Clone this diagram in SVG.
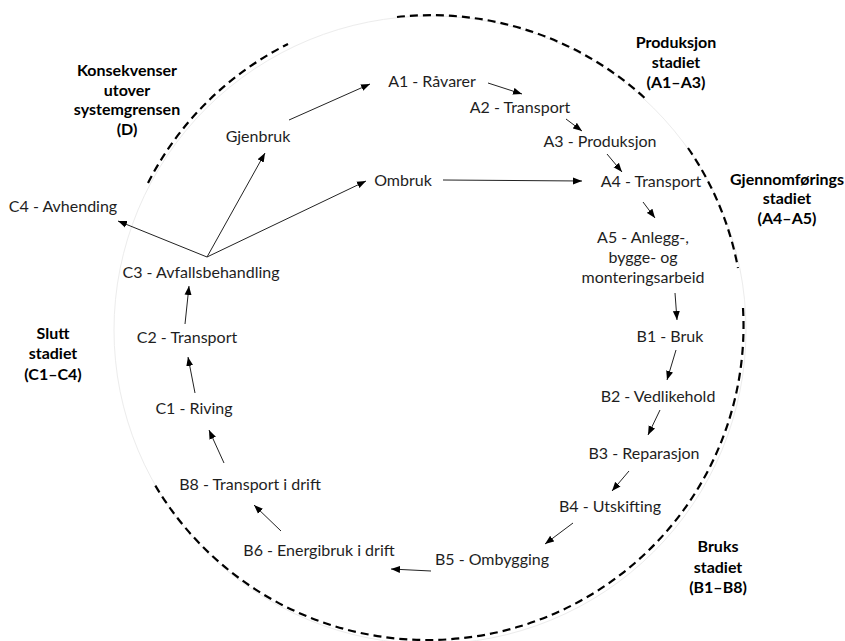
<svg xmlns="http://www.w3.org/2000/svg" width="845" height="641" viewBox="0 0 845 641">
<defs>
<style>
.lbl{font-family:Lato,"Liberation Sans",sans-serif;font-size:16px;fill:#1e1e1e;text-anchor:middle}
.stg{font-family:Lato,"Liberation Sans",sans-serif;font-size:16px;font-weight:bold;fill:#000;text-anchor:middle}
.dash{fill:none;stroke:#000;stroke-width:2.2;stroke-dasharray:8 5}
.faint{fill:none;stroke:#ececec;stroke-width:1}
.arr{fill:none;stroke:#222;stroke-width:1;marker-end:url(#ah)}
</style>
<marker id="ah" markerUnits="userSpaceOnUse" markerWidth="9" markerHeight="8" refX="9" refY="4" orient="auto">
<path d="M0,0.5 L9,4 L0,7.5 z" fill="#000"/>
</marker>
</defs>
<rect width="845" height="641" fill="#fff"/>
<g id="boundary">
<ellipse class="faint" cx="430" cy="330" rx="316" ry="314"/>
<path class="dash" d="M148,183 A316,314 0 0 1 288,44"/>
<path class="dash" d="M397,17 A316,314 0 0 1 648,101"/>
<path class="dash" d="M688,148 A316,314 0 0 1 738,268"/>
<path class="dash" d="M743,308 A316,314 0 0 1 155,485"/>
</g>
<g id="connectors">
<line class="arr" x1="289" y1="120" x2="370" y2="84"/>
<line class="arr" x1="207" y1="257" x2="265" y2="153"/>
<line class="arr" x1="207" y1="257" x2="366" y2="181"/>
<line class="arr" x1="207" y1="257" x2="118" y2="221"/>
<line class="arr" x1="443" y1="180" x2="582" y2="181"/>
<line class="arr" x1="488" y1="83" x2="522" y2="94"/>
<line class="arr" x1="566" y1="119" x2="582" y2="131"/>
<line class="arr" x1="607" y1="154" x2="622" y2="172"/>
<line class="arr" x1="643" y1="202" x2="655" y2="218"/>
<line class="arr" x1="675" y1="293" x2="677" y2="320"/>
<line class="arr" x1="676" y1="350" x2="667" y2="380"/>
<line class="arr" x1="660" y1="410" x2="648" y2="435"/>
<line class="arr" x1="629" y1="471" x2="612" y2="491"/>
<line class="arr" x1="573" y1="523" x2="545" y2="544"/>
<line class="arr" x1="431" y1="571" x2="391" y2="569"/>
<line class="arr" x1="281" y1="531" x2="254" y2="505"/>
<line class="arr" x1="224" y1="463" x2="209" y2="430"/>
<line class="arr" x1="195" y1="393" x2="188" y2="357"/>
<line class="arr" x1="185" y1="324" x2="189" y2="286"/>
</g>
<g id="stage-D"><text class="stg" x="127" y="76">Konsekvenser</text><text class="stg" x="127" y="96">utover</text><text class="stg" x="127" y="115">systemgrensen</text><text class="stg" x="127" y="135">(D)</text></g>
<g id="stage-A1A3"><text class="stg" x="676" y="48">Produksjon</text><text class="stg" x="676" y="68">stadiet</text><text class="stg" x="676" y="88">(A1–A3)</text></g>
<g id="stage-A4A5"><text class="stg" x="787" y="185">Gjennomførings</text><text class="stg" x="787" y="204">stadiet</text><text class="stg" x="787" y="224">(A4–A5)</text></g>
<g id="stage-B"><text class="stg" x="718" y="552">Bruks</text><text class="stg" x="718" y="573">stadiet</text><text class="stg" x="718" y="593">(B1–B8)</text></g>
<g id="stage-C"><text class="stg" x="53" y="339">Slutt</text><text class="stg" x="53" y="359">stadiet</text><text class="stg" x="53" y="380">(C1–C4)</text></g>
<g id="A1"><text class="lbl" x="432" y="87">A1 - Råvarer</text></g>
<g id="A2"><text class="lbl" x="520" y="113">A2 - Transport</text></g>
<g id="A3"><text class="lbl" x="600" y="147">A3 - Produksjon</text></g>
<g id="A4"><text class="lbl" x="651" y="187">A4 - Transport</text></g>
<g id="A5"><text class="lbl" x="643" y="243">A5 - Anlegg-,</text><text class="lbl" x="643" y="263">bygge- og</text><text class="lbl" x="643" y="283">monteringsarbeid</text></g>
<g id="B1"><text class="lbl" x="670" y="342">B1 - Bruk</text></g>
<g id="B2"><text class="lbl" x="658" y="402">B2 - Vedlikehold</text></g>
<g id="B3"><text class="lbl" x="644" y="459">B3 - Reparasjon</text></g>
<g id="B4"><text class="lbl" x="610" y="512">B4 - Utskifting</text></g>
<g id="B5"><text class="lbl" x="492" y="565">B5 - Ombygging</text></g>
<g id="B6"><text class="lbl" x="319" y="556">B6 - Energibruk i drift</text></g>
<g id="B8"><text class="lbl" x="250" y="490">B8 - Transport i drift</text></g>
<g id="C1"><text class="lbl" x="194" y="414">C1 - Riving</text></g>
<g id="C2"><text class="lbl" x="187" y="343">C2 - Transport</text></g>
<g id="C3"><text class="lbl" x="201" y="278">C3 - Avfallsbehandling</text></g>
<g id="C4"><text class="lbl" x="63" y="212">C4 - Avhending</text></g>
<g id="Gjenbruk"><text class="lbl" x="258" y="142">Gjenbruk</text></g>
<g id="Ombruk"><text class="lbl" x="403" y="186">Ombruk</text></g>
</svg>
